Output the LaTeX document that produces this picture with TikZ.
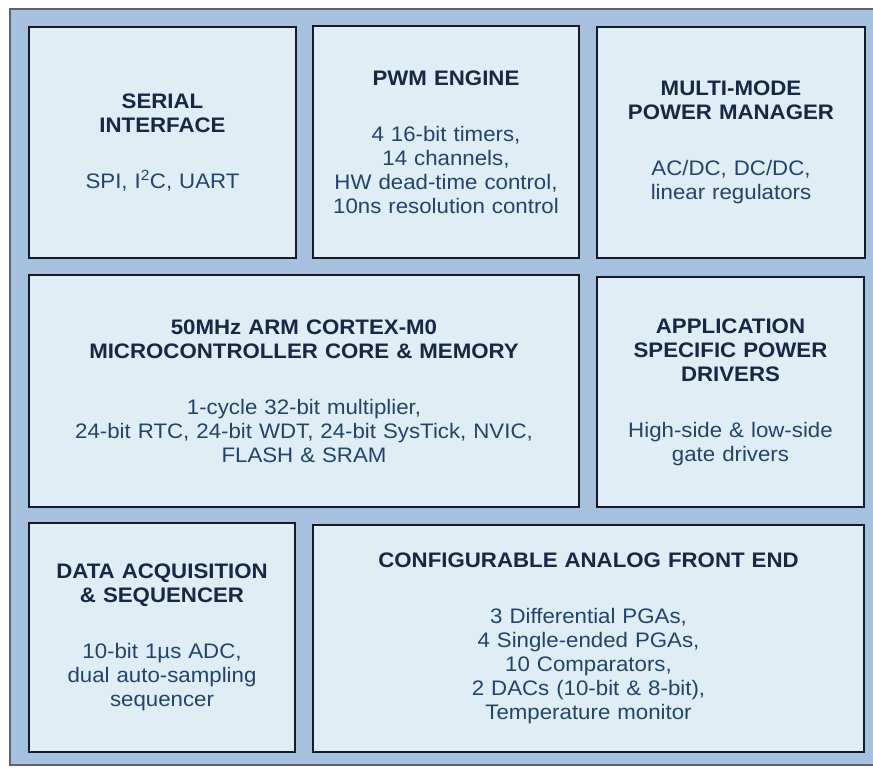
\documentclass[tikz,border=0pt]{standalone}
\usepackage{fontspec}
\setmainfont[FakeStretch=1.06]{Liberation Sans}
\definecolor{framefill}{RGB}{166,193,221}
\definecolor{framedraw}{RGB}{90,100,115}
\definecolor{boxfill}{RGB}{222,238,244}
\definecolor{boxdraw}{RGB}{22,26,36}
\definecolor{titlenavy}{RGB}{22,40,68}
\definecolor{bodyblue}{RGB}{34,68,108}
\newcommand\blktitle[1]{{\bfseries\color{titlenavy}#1}}
\begin{document}
\begin{tikzpicture}[x=1pt,y=-1pt,
    blk/.style={draw=boxdraw, line width=2pt, fill=boxfill, align=center,
        text=bodyblue, font=\fontsize{21}{24}\selectfont, inner sep=0pt}]
    \useasboundingbox[fill=white] (0,0) rectangle (873,772);
    % outer frame, open on the right
    \fill[framefill] (10,9) rectangle (873,765);
    \draw[framedraw, line width=1.5pt] (873,9) -- (10,9) -- (10,765) -- (873,765);

    % top row
    \node[blk, minimum width=267, minimum height=231, text width=250] (serial) at (162.5,142.5)
        {\blktitle{SERIAL\\INTERFACE}\\[32pt]SPI, I\textsuperscript{2}C, UART};
    \node[blk, minimum width=266, minimum height=232, text width=250] (pwm) at (446,142)
        {\blktitle{PWM ENGINE}\\[32pt]4 16-bit timers,\\14 channels,\\HW dead-time control,\\10ns resolution control};
    \node[blk, minimum width=268, minimum height=231, text width=250] (power) at (731,142.5)
        {\blktitle{MULTI-MODE\\POWER MANAGER}\\[32pt]AC/DC, DC/DC,\\linear regulators};

    % middle row
    \node[blk, minimum width=550, minimum height=232, text width=520] (core) at (304,391)
        {\blktitle{50MHz ARM CORTEX-M0\\MICROCONTROLLER CORE \& MEMORY}\\[32pt]1-cycle 32-bit multiplier,\\24-bit RTC, 24-bit WDT, 24-bit SysTick, NVIC,\\FLASH \& SRAM};
    \node[blk, minimum width=267, minimum height=230, text width=250] (drivers) at (730.5,392)
        {\blktitle{APPLICATION\\SPECIFIC POWER\\DRIVERS}\\[32pt]High-side \& low-side\\gate drivers};

    % bottom row
    \node[blk, minimum width=266, minimum height=229, text width=250] (daq) at (162,637.5)
        {\blktitle{DATA ACQUISITION\\\& SEQUENCER}\\[32pt]10-bit 1µs ADC,\\dual auto-sampling\\sequencer};
    \node[blk, minimum width=551, minimum height=227, text width=520] (afe) at (588.5,638.5)
        {\blktitle{CONFIGURABLE ANALOG FRONT END}\\[32pt]3 Differential PGAs,\\4 Single-ended PGAs,\\10 Comparators,\\2 DACs (10-bit \& 8-bit),\\Temperature monitor};
\end{tikzpicture}
\end{document}
